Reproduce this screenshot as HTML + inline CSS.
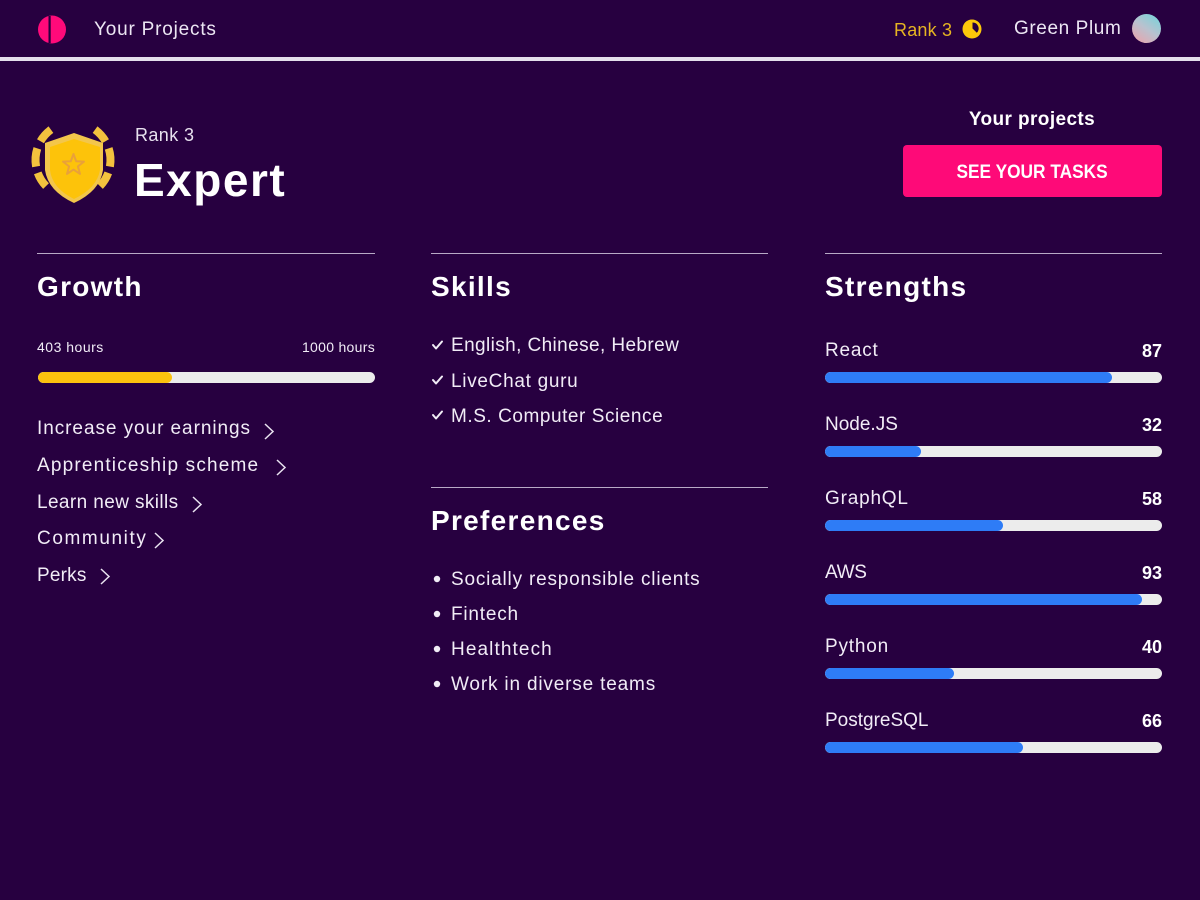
<!DOCTYPE html>
<html><head><meta charset="utf-8">
<style>
*{margin:0;padding:0;box-sizing:border-box}
html,body{width:1200px;height:900px;overflow:hidden;background:#270040;font-family:"Liberation Sans",Arial,sans-serif;color:#f1ecf6}
.t{position:absolute;white-space:nowrap;line-height:1}
.r19{font-size:19px;letter-spacing:0.8px}
.h{font-size:28px;font-weight:bold;letter-spacing:1.3px;color:#fff}
.hr{position:absolute;height:1px;background:#b8a9c6}
.bar{position:absolute;height:11px;border-radius:6px;background:#ececec;overflow:hidden}
.bar i{position:absolute;left:0;top:0;bottom:0;border-radius:6px;background:#2e7cf6}
.val{font-size:18px;font-weight:bold;color:#fff;text-align:right}
</style></head><body>

<!-- header -->
<svg style="position:absolute;left:36px;top:14px" width="32" height="32" viewBox="0 0 32 32">
<circle cx="16" cy="15.5" r="14" fill="#ff0a7a"/>
<rect x="12.5" y="2" width="2.2" height="27" fill="#270040"/>
</svg>
<div class="t r19" style="left:94px;top:20px;color:#ece6f3;">Your Projects</div>
<div class="t" style="left:894px;top:21px;font-size:18px;color:#e6b422;letter-spacing:0.2px">Rank 3</div>
<svg style="position:absolute;left:961px;top:18px" width="22" height="22" viewBox="0 0 22 22">
<circle cx="11" cy="11" r="9.5" fill="#fcc80a"/>
<path d="M11.5 10.5 L11.5 4.5 A6 6 0 0 1 15.8 14.8 Z" fill="#270040"/>
</svg>
<div class="t r19" style="left:1014px;top:19px;color:#ece6f3;letter-spacing:0.6px">Green Plum</div>
<div style="position:absolute;left:1132px;top:14px;width:29px;height:29px;border-radius:50%;background:linear-gradient(215deg,#6fd6dc 0%,#b9c2cf 50%,#f0a0a8 100%)"></div>
<div style="position:absolute;left:0;top:57px;width:1200px;height:4px;background:#e4dfec"></div>

<!-- badge -->
<svg style="position:absolute;left:0;top:100px" width="140" height="120" viewBox="0 100 140 120">
<g fill="none" stroke="#f3c23e" stroke-width="8">
<path d="M40.5 141.25 A37.5 37.5 0 0 1 50.95 129.66"/>
<path d="M36.07 166.51 A37.5 37.5 0 0 1 37.34 148.41"/>
<path d="M46.03 186.05 A37.5 37.5 0 0 1 37.76 172.83"/>
<path d="M95.05 129.66 A37.5 37.5 0 0 1 105.48 141.25"/>
<path d="M108.66 148.41 A37.5 37.5 0 0 1 109.93 166.51"/>
<path d="M108.24 172.83 A37.5 37.5 0 0 1 99.97 186.05"/>
</g>
<path d="M74 133 L103 143 L103 170 Q100 191 74 203 Q48 191 45 170 L45 143 Z" fill="#f3c64b"/>
<path d="M74 139 L100 147 L100 170 Q97 188 74 199 Q52 188 50 170 L50 147 Z" fill="#fdc30a"/>
<path d="M73.5 154 L76.2 161.3 L84 161.6 L77.9 166.4 L80 173.9 L73.5 169.6 L67 173.9 L69.1 166.4 L63 161.6 L70.8 161.3 Z" fill="none" stroke="#e9a13a" stroke-width="2" stroke-linejoin="round"/>
</svg>
<div class="t" style="left:135px;top:126px;font-size:18px;letter-spacing:0.4px;color:#e7e1ee">Rank 3</div>
<div class="t" style="left:134px;top:157px;font-size:46px;font-weight:bold;letter-spacing:1.5px;color:#fff">Expert</div>

<!-- your projects -->
<div class="t" style="left:932px;width:200px;text-align:center;top:110px;font-size:19px;font-weight:bold;letter-spacing:0.4px;color:#fff">Your projects</div>
<div style="position:absolute;left:903px;top:145px;width:259px;height:52px;border-radius:4px;background:#fe0a78"></div>
<div class="t" style="left:903px;width:259px;text-align:center;top:163px;font-size:19px;font-weight:bold;color:#fff"><span style="display:inline-block;transform:scaleX(0.91);transform-origin:center">SEE YOUR TASKS</span></div>

<!-- dividers -->
<div class="hr" style="left:37px;top:253px;width:338px"></div>
<div class="hr" style="left:431px;top:253px;width:337px"></div>
<div class="hr" style="left:825px;top:253px;width:337px"></div>
<div class="hr" style="left:431px;top:487px;width:337px"></div>

<!-- Growth -->
<div class="t h" style="left:37px;top:273px">Growth</div>
<div class="t" style="left:37px;top:340px;font-size:14px;letter-spacing:0.5px">403 hours</div>
<div class="t" style="left:275px;width:100px;text-align:right;top:340px;font-size:14px;letter-spacing:0.3px">1000 hours</div>
<div class="bar" style="left:38px;top:372px;width:337px"><i style="width:134px;background:#fcc20e"></i></div>

<div class="t r19" style="left:37px;top:419px;letter-spacing:0.94px">Increase your earnings</div>
<div class="t r19" style="left:37px;top:456px;letter-spacing:1.18px">Apprenticeship scheme</div>
<div class="t r19" style="left:37px;top:493px;letter-spacing:0.4px">Learn new skills</div>
<div class="t r19" style="left:37px;top:529px;letter-spacing:1.6px">Community</div>
<div class="t r19" style="left:37px;top:566px;letter-spacing:0.2px">Perks</div>
<svg style="position:absolute;left:0;top:0" width="300" height="600">
<g fill="none" stroke="#e9e3f0" stroke-width="1.5">
<polyline points="265,424 273,431.5 265,439"/>
<polyline points="277,460 285,467.5 277,475"/>
<polyline points="193,497 201,504.5 193,512"/>
<polyline points="155,533 163,540.5 155,548"/>
<polyline points="101,569 109,576.5 101,584"/>
</g>
</svg>

<!-- Skills -->
<div class="t h" style="left:431px;top:273px">Skills</div>
<svg style="position:absolute;left:428px;top:330px" width="20" height="100">
<g fill="none" stroke="#f1ecf6" stroke-width="2" stroke-linecap="round" stroke-linejoin="round">
<polyline points="5,15 8,18.5 14,11.5"/>
<polyline points="5,50 8,53.5 14,46.5"/>
<polyline points="5,85 8,88.5 14,81.5"/>
</g>
</svg>
<div class="t r19" style="left:451px;top:336px;letter-spacing:0.4px">English, Chinese, Hebrew</div>
<div class="t r19" style="left:451px;top:372px;letter-spacing:0.7px">LiveChat guru</div>
<div class="t r19" style="left:451px;top:407px;letter-spacing:0.55px">M.S. Computer Science</div>

<!-- Preferences -->
<div class="t h" style="left:431px;top:507px">Preferences</div>
<svg style="position:absolute;left:430px;top:570px" width="14" height="130">
<g fill="#f1ecf6">
<circle cx="7" cy="9" r="3.2"/>
<circle cx="7" cy="44" r="3.2"/>
<circle cx="7" cy="79" r="3.2"/>
<circle cx="7" cy="114" r="3.2"/>
</g>
</svg>
<div class="t r19" style="left:451px;top:570px;letter-spacing:0.8px">Socially responsible clients</div>
<div class="t r19" style="left:451px;top:605px;letter-spacing:0.8px">Fintech</div>
<div class="t r19" style="left:451px;top:640px;letter-spacing:1.1px">Healthtech</div>
<div class="t r19" style="left:451px;top:675px;letter-spacing:0.83px">Work in diverse teams</div>

<!-- Strengths -->
<div class="t h" style="left:825px;top:273px">Strengths</div>

<div class="t r19" style="left:825px;top:341px">React</div>
<div class="t val" style="left:1062px;width:100px;top:342px">87</div>
<div class="bar" style="left:825px;top:372px;width:337px"><i style="width:287px"></i></div>

<div class="t r19" style="left:825px;top:415px;letter-spacing:0px">Node.JS</div>
<div class="t val" style="left:1062px;width:100px;top:416px">32</div>
<div class="bar" style="left:825px;top:446px;width:337px"><i style="width:96px"></i></div>

<div class="t r19" style="left:825px;top:489px">GraphQL</div>
<div class="t val" style="left:1062px;width:100px;top:490px">58</div>
<div class="bar" style="left:825px;top:520px;width:337px"><i style="width:178px"></i></div>

<div class="t r19" style="left:825px;top:563px;letter-spacing:-0.3px">AWS</div>
<div class="t val" style="left:1062px;width:100px;top:564px">93</div>
<div class="bar" style="left:825px;top:594px;width:337px"><i style="width:317px"></i></div>

<div class="t r19" style="left:825px;top:637px">Python</div>
<div class="t val" style="left:1062px;width:100px;top:638px">40</div>
<div class="bar" style="left:825px;top:668px;width:337px"><i style="width:129px"></i></div>

<div class="t r19" style="left:825px;top:711px;letter-spacing:0px">PostgreSQL</div>
<div class="t val" style="left:1062px;width:100px;top:712px">66</div>
<div class="bar" style="left:825px;top:742px;width:337px"><i style="width:198px"></i></div>

</body></html>
